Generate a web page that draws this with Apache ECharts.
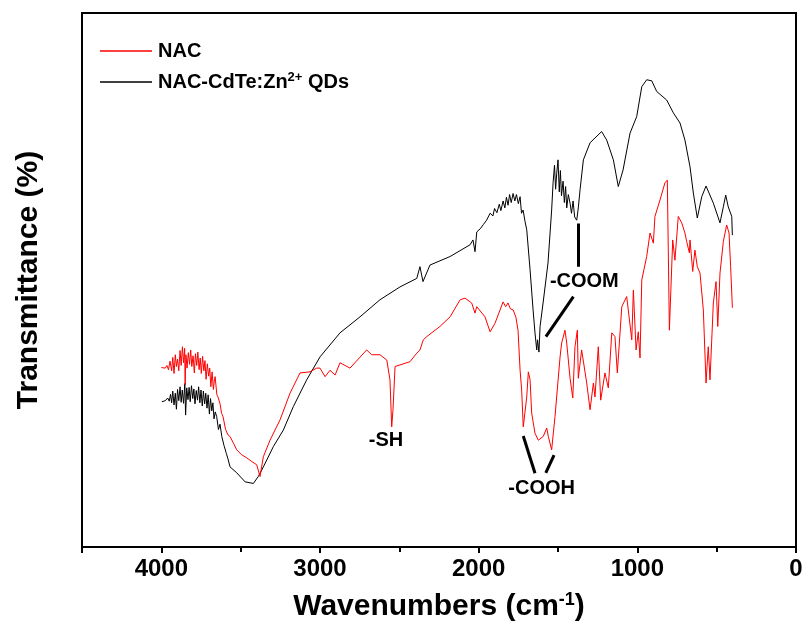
<!DOCTYPE html>
<html>
<head>
<meta charset="utf-8">
<script src="https://cdn.jsdelivr.net/npm/echarts@6.0.0/dist/echarts.min.js"></script>
<style>
  html, body { margin: 0; padding: 0; background: #fff; }
  #chartmain { width: 804px; height: 626px; }
</style>
</head>
<body>
<div id="chartmain"></div>
<script>
// series names
var seriesNames = ['NAC', 'NAC-CdTe:Zn2+ QDs'];

// NAC (red) : wavenumber / transmittance
var nacWn = [4000, 3990, 3975, 3965, 3955, 3945, 3935, 3928, 3920, 3912, 3905, 3898, 3890, 3882, 3875, 3867, 3860, 3853, 3850, 3845,
  3838, 3830, 3822, 3815, 3808, 3800, 3792, 3785, 3777, 3770, 3762, 3755, 3748, 3740, 3732, 3725, 3718, 3710, 3702, 3695,
  3688, 3680, 3672, 3665, 3661, 3650, 3643, 3630, 3620, 3611, 3595, 3580, 3567, 3545, 3525, 3495, 3462, 3430, 3399, 3378,
  3357, 3315, 3252, 3189, 3126, 3063, 3021, 3000, 2968, 2937, 2905, 2874, 2811, 2706, 2674, 2622, 2579, 2559, 2548, 2540,
  2527, 2433, 2390, 2370, 2349, 2327, 2244, 2180, 2117, 2086, 2044, 2023, 2012, 1960, 1928, 1897, 1846, 1830, 1815, 1800,
  1783, 1765, 1752, 1739, 1729, 1719, 1697, 1687, 1676, 1666, 1645, 1624, 1593, 1571, 1561, 1540, 1519, 1487, 1477, 1456,
  1445, 1424, 1407, 1393, 1378, 1372, 1351, 1319, 1298, 1277, 1267, 1246, 1231, 1204, 1183, 1161, 1141, 1126, 1098, 1067,
  1035, 1025, 1008, 994, 983, 972, 941, 920, 899, 889, 857, 826, 811, 798, 777, 763, 742, 720, 700, 689,
  672, 668, 651, 637, 622, 605, 584, 567, 553, 542, 521, 504, 493, 479, 458, 437, 422, 412, 401];
var nacT = [33.6, 33.7, 33.5, 34.0, 33.2, 34.8, 33.0, 35.5, 32.5, 36.0, 33.8, 35.2, 33.0, 36.8, 34.0, 37.5, 34.5, 37.2, 30.4, 36.0,
  33.5, 36.4, 34.2, 36.9, 33.8, 35.8, 32.6, 36.2, 34.0, 36.5, 33.2, 35.4, 32.5, 35.7, 33.0, 34.9, 31.4, 34.3, 32.0, 33.5,
  30.0, 32.8, 29.5, 31.5, 31.9, 28.5, 28.1, 26.8, 25.0, 24.4, 22.0, 21.0, 20.7, 19.4, 18.2, 17.3, 16.7, 16.0, 15.4, 13.2,
  16.9, 20.0, 23.8, 28.8, 32.6, 32.8, 33.5, 33.5, 31.9, 33.1, 32.2, 34.5, 33.5, 36.9, 36.0, 36.0, 35.0, 31.3, 22.5, 25.7,
  33.8, 34.7, 36.3, 36.9, 38.8, 39.4, 41.3, 43.1, 46.3, 46.6, 45.7, 43.8, 45.0, 43.1, 40.3, 41.9, 45.9, 45.0, 45.7, 44.6,
  44.4, 43.0, 40.6, 33.1, 29.4, 22.5, 28.1, 32.8, 31.3, 25.1, 21.3, 20.0, 20.7, 22.3, 20.7, 18.2, 24.4, 35.6, 38.2, 40.6,
  38.2, 31.6, 27.9, 37.5, 40.6, 31.6, 36.9, 30.7, 25.7, 30.7, 28.1, 37.5, 27.5, 32.6, 29.8, 40.1, 39.4, 32.6, 45.0, 46.9,
  38.8, 48.1, 36.9, 40.3, 35.4, 50.0, 54.4, 58.8, 56.9, 61.9, 65.0, 68.2, 68.7, 40.6, 57.5, 53.7, 61.9, 60.7, 58.8, 57.2,
  55.1, 57.5, 51.6, 55.6, 52.5, 51.3, 44.4, 30.7, 37.5, 31.3, 45.7, 49.7, 41.3, 51.3, 57.2, 60.3, 58.8, 52.5, 44.8];

// NAC-CdTe:Zn2+ QDs (black) : wavenumber / transmittance
var qdWn = [3997, 3990, 3975, 3960, 3950, 3942, 3935, 3928, 3920, 3912, 3905, 3898, 3890, 3882, 3875, 3868, 3860, 3852, 3847, 3840,
  3832, 3825, 3818, 3810, 3802, 3795, 3788, 3780, 3772, 3765, 3757, 3750, 3742, 3735, 3727, 3720, 3712, 3705, 3697, 3690,
  3682, 3675, 3668, 3660, 3651, 3640, 3630, 3619, 3605, 3590, 3580, 3567, 3525, 3472, 3420, 3389, 3357, 3294, 3231, 3168,
  3084, 3000, 2874, 2748, 2622, 2496, 2390, 2370, 2351, 2307, 2180, 2054, 2036, 2023, 2012, 1990, 1970, 1950, 1928, 1910,
  1900, 1885, 1870, 1860, 1846, 1835, 1825, 1815, 1805, 1795, 1783, 1772, 1762, 1750, 1739, 1730, 1720, 1708, 1697, 1676,
  1657, 1645, 1634, 1629, 1620, 1613, 1594, 1563, 1540, 1531, 1522, 1515, 1508, 1500, 1492, 1485, 1478, 1468, 1460, 1452,
  1445, 1435, 1424, 1415, 1405, 1395, 1382, 1372, 1361, 1340, 1298, 1225, 1193, 1151, 1120, 1090, 1046, 1004, 972, 941,
  909, 878, 815, 773, 731, 700, 668, 647, 622, 594, 567, 521, 479, 458, 443, 427, 416, 405, 401];
var qdT = [27.2, 27.2, 27.4, 27.9, 27.3, 28.6, 27.0, 29.2, 26.6, 28.8, 25.8, 29.5, 27.4, 30.0, 27.1, 29.4, 26.9, 30.6, 24.7, 29.8,
  27.6, 29.9, 27.2, 30.2, 27.8, 29.6, 26.8, 29.3, 27.5, 30.0, 27.0, 29.4, 26.4, 29.2, 26.8, 28.8, 26.0, 28.5, 24.9, 27.8,
  25.5, 27.0, 24.0, 25.3, 24.4, 22.0, 23.0, 20.7, 19.0, 17.5, 16.5, 15.0, 13.9, 12.2, 11.9, 13.2, 15.0, 18.8, 21.9, 26.3,
  31.3, 35.6, 40.1, 43.1, 46.3, 48.7, 50.3, 52.5, 49.7, 52.8, 54.4, 56.6, 57.5, 55.3, 59.0, 59.6, 60.4, 61.2, 62.5, 62.0,
  63.4, 62.6, 64.2, 63.0, 64.8, 63.5, 65.5, 64.0, 66.0, 64.5, 66.2, 64.8, 66.0, 64.3, 65.6, 62.5, 63.1, 61.0, 59.4, 51.9,
  44.4, 40.1, 36.9, 38.8, 36.5, 41.3, 45.7, 53.2, 63.1, 68.2, 71.5, 67.0, 70.0, 72.5, 66.5, 70.5, 65.8, 68.5, 64.5, 67.5,
  63.5, 66.0, 64.4, 62.5, 64.8, 61.8, 61.2, 63.5, 66.9, 72.5, 75.7, 77.8, 76.2, 72.5, 67.5, 70.6, 77.5, 80.6, 86.2, 87.5,
  87.3, 85.3, 83.7, 81.3, 79.4, 76.2, 71.2, 66.3, 61.6, 65.6, 67.6, 64.4, 60.7, 63.7, 65.9, 63.7, 64.0, 61.9, 58.4];

// band labels and their pointer lines
var bandLabels = ['-SH', '-COOH', '-COOM'];
var bandLabelAt = [[2584, 20.0], [1603, 10.9], [1334, 49.7]];
var pointerLines = [
  [[1719, 20.8], [1645, 13.8]],
  [[1525, 17.2], [1577, 13.9]],
  [[1372, 60.6], [1372, 52.5]],
  [[1403, 46.9], [1576, 39.4]]
];

function zip(a, b) {
  return a.map(function (v, i) { return [v, b[i]]; });
}

var font = 'Liberation Sans, Arial, sans-serif';

var option = {
  animation: false,
  backgroundColor: '#fff',
  grid: {
    left: 82, right: 8, top: 13, bottom: 79,
    show: true, borderColor: '#000', borderWidth: 2,
    outerBoundsMode: 'none'
  },
  legend: {
    data: seriesNames,
    orient: 'vertical',
    left: 100,
    top: 41,
    padding: 0,
    icon: 'rect',
    itemWidth: 52,
    itemHeight: 1.5,
    itemGap: 10,
    textStyle: {
      fontFamily: font, fontSize: 20, fontWeight: 'bold', color: '#000',
      padding: [0, 0, 0, 1],
      rich: {
        sup: { fontFamily: font, fontSize: 13, fontWeight: 'bold', color: '#000', verticalAlign: 'top', padding: [0, 0, 9, 0] }
      }
    },
    formatter: function (name) {
      return name === 'NAC-CdTe:Zn2+ QDs' ? 'NAC-CdTe:Zn{sup|2+} QDs' : name;
    }
  },
  xAxis: {
    type: 'value',
    inverse: true,
    min: 0,
    max: 4500,
    interval: 1000,
    name: 'Wavenumbers (cm{sup|-1})',
    nameLocation: 'middle',
    nameGap: 44,
    nameTextStyle: {
      fontFamily: font, fontSize: 30, fontWeight: 'bold', color: '#000',
      rich: {
        sup: { fontFamily: font, fontSize: 18, fontWeight: 'bold', color: '#000', verticalAlign: 'top', padding: [0, 0, 14, 0] }
      }
    },
    axisLine: { onZero: false, lineStyle: { color: '#000', width: 2 } },
    axisTick: { show: true, length: 6, lineStyle: { color: '#000', width: 2 } },
    minorTick: { show: true, splitNumber: 2, length: 5, lineStyle: { color: '#000', width: 2 } },
    axisLabel: {
      margin: 10,
      fontFamily: font, fontSize: 24, fontWeight: 'bold', color: '#000',
      formatter: function (v) { return v % 1000 === 0 ? String(v) : ''; }
    },
    splitLine: { show: false }
  },
  yAxis: {
    type: 'value',
    min: 0,
    max: 100,
    name: 'Transmittance (%)',
    nameLocation: 'middle',
    nameGap: 38,
    nameTextStyle: { fontFamily: font, fontSize: 30, fontWeight: 'bold', color: '#000' },
    axisLine: { show: true, onZero: false, lineStyle: { color: '#000', width: 2 } },
    axisTick: { show: false },
    axisLabel: { show: false },
    splitLine: { show: false }
  },
  series: [
    {
      name: seriesNames[0],
      type: 'line',
      data: zip(nacWn, nacT),
      symbol: 'none',
      lineStyle: { color: '#ff0000', width: 1 },
      itemStyle: { color: '#ff0000' },
      z: 3
    },
    {
      name: seriesNames[1],
      type: 'line',
      data: zip(qdWn, qdT),
      symbol: 'none',
      lineStyle: { color: '#000', width: 1 },
      itemStyle: { color: '#000' },
      z: 2
    },
    {
      name: 'pointers',
      type: 'lines',
      coordinateSystem: 'cartesian2d',
      data: pointerLines.map(function (c) { return { coords: c }; }),
      lineStyle: { color: '#000', width: 3, opacity: 1 },
      z: 4
    },
    {
      name: 'bands',
      type: 'scatter',
      symbolSize: 0,
      itemStyle: { opacity: 1, color: '#000' },
      data: bandLabels.map(function (t, i) { return { name: t, value: bandLabelAt[i] }; }),
      label: {
        show: true,
        position: 'inside',
        formatter: '{b}',
        fontFamily: font, fontSize: 20, fontWeight: 'bold', color: '#000',
        textBorderWidth: 0
      },
      z: 5
    }
  ]
};

var myChart = echarts.init(document.getElementById('chartmain'));
myChart.setOption(option);
</script>
</body>
</html>
